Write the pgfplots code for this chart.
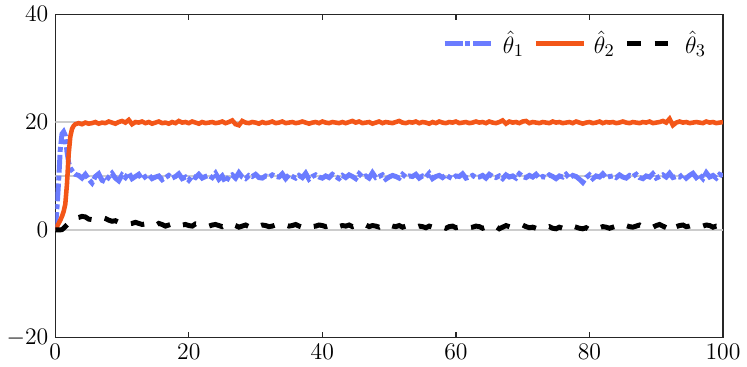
\documentclass[border=0pt]{standalone}
\usepackage{pgfplots}
\usepackage{pgfplotstable}
\pgfplotsset{compat=1.18}

\definecolor{cblue}{RGB}{107,124,255}
\definecolor{corange}{RGB}{243,86,24}
\definecolor{cgrid}{RGB}{204,204,204}
\definecolor{caxis}{RGB}{38,38,38}

% columns: t, theta1, theta2, theta3
\pgfplotstableread{
x t1 t2 t3
0 0 0 0
0.25 4 0.6 0
0.5 9 1.2 0
0.75 15 1.8 0
1 17.8 2.5 0.05
1.25 18.2 3.4 0.3
1.5 17.5 4.8 0.6
1.75 14.5 8.5 0.9
2 12.5 14 1.2
2.25 11.5 17.3 1.5
2.5 11 18.7 1.8
2.75 10.6 19.3 2.0
3 10.3 19.6 2.2
3.5 10.1 19.8 2.3
4 9.6 19.6 2.5
4.5 10.3 19.9 2.4
5 9.4 19.7 2.0
5.5 8.7 19.8 1.9
6 9.9 20.0 2.2
6.5 10.4 19.7 2.4
7 9.2 19.9 2.3
7.5 8.9 19.8 2.1
8 9.8 20.1 1.8
8.5 10.5 19.9 1.6
9 9.6 19.7 1.7
9.5 9.1 20.0 1.4
10 10.2 20.2 1.5
10.5 9.7 19.9 1.3
11 10.6 20.4 1.1
11.5 9.5 19.6 1.2
12 9.9 20.0 1.4
12.5 10.3 19.9 1.2
13 9.4 20.1 1.0
13.5 9.9 19.8 1.1
14 10.2 20.0 0.9
14.5 9.5 19.7 1.0
15 9.8 19.9 0.8
15.5 10.0 20.1 1.2
16 9.3 19.8 1.0
16.5 9.7 19.9 0.7
17 10.1 19.7 0.9
17.5 9.6 20.0 1.1
18 9.9 19.8 0.8
18.5 10.4 20.2 0.6
19 9.5 19.9 0.9
19.5 9.8 20.0 1.0
20 9.2 19.8 0.8
20.5 10.0 20.1 0.7
21 9.7 19.9 1.1
21.5 10.3 19.7 1.0
22 9.6 20.0 0.8
22.5 9.9 19.8 0.9
23 10.1 19.9 0.7
23.5 9.7 20.0 0.9
24 10.5 19.8 1.0
24.5 9.4 19.9 0.8
25 10.0 20.1 0.6
25.5 8.8 19.8 0.9
26 9.9 20.0 0.7
26.5 10.2 20.3 1.0
27 9.6 19.6 0.8
27.5 10.6 19.4 0.5
28 9.8 20.2 0.7
28.5 9.5 19.9 0.9
29 10.1 19.8 0.6
29.5 9.9 20.0 0.8
30 10.3 19.9 1.0
30.5 9.7 19.7 0.7
31 9.6 20.0 0.9
31.5 10.0 19.8 0.8
32 9.8 19.9 0.6
32.5 10.2 20.1 0.7
33 9.9 19.8 0.9
33.5 9.8 19.9 0.8
34 10.4 20.1 0.6
34.5 9.5 19.8 0.9
35 10.2 19.9 0.7
35.5 9.9 20.0 0.8
36 9.6 19.8 1.0
36.5 10.1 19.9 0.7
37 9.7 20.1 0.5
37.5 10.5 19.9 0.8
38 9.4 19.7 0.9
38.5 9.9 19.9 0.6
39 10.2 20.0 0.7
39.5 9.8 19.8 0.9
40 9.6 20.1 0.8
40.5 10.0 19.9 0.6
41 9.7 19.8 0.8
41.5 10.3 20.0 1.0
42 9.9 19.9 0.7
42.5 9.5 19.8 0.6
43 10.1 20.0 0.8
43.5 9.7 19.8 0.7
44 10.2 20.0 0.9
44.5 9.9 20.2 0.6
45 9.5 19.9 0.8
45.5 10.4 20.1 0.5
46 9.8 19.8 0.7
46.5 10.0 19.9 0.9
47 9.6 20.0 0.6
47.5 10.6 19.7 0.8
48 9.7 19.9 0.7
48.5 9.9 20.1 0.5
49 10.2 19.8 0.8
49.5 9.4 20.0 0.6
50 9.8 19.9 0.9
50.5 10.1 19.8 0.7
51 9.9 20.0 0.6
51.5 9.6 20.2 0.8
52 10.3 19.9 0.5
52.5 9.8 19.8 0.7
53 10.0 20.0 0.6
53.5 9.9 19.9 0.8
54 10.3 20.1 0.5
54.5 9.6 19.8 0.7
55 10.0 20.0 0.6
55.5 9.8 19.9 0.4
56 10.5 19.7 0.7
56.5 9.5 20.0 0.5
57 9.9 19.8 0.6
57.5 10.1 20.1 0.8
58 9.7 19.9 0.5
58.5 10.2 19.8 0.3
59 9.8 20.0 0.6
59.5 9.5 19.9 0.7
60 10.0 20.1 0.4
60.5 9.9 19.8 0.5
61 10.4 19.9 0.7
61.5 9.6 20.0 0.6
62 9.8 19.8 0.4
62.5 10.1 19.9 0.5
63 9.7 20.1 0.7
63.5 9.8 19.9 0.6
64 10.1 20.0 0.3
64.5 9.6 19.8 0.5
65 10.3 20.1 0.7
65.5 9.9 19.9 0.4
66 9.7 19.8 0.6
66.5 10.0 20.0 0.2
67 9.5 20.3 0.5
67.5 10.2 19.7 0.8
68 9.8 20.1 0.6
68.5 10.0 19.9 0.4
69 9.6 20.0 0.5
69.5 10.4 19.8 0.7
70 9.9 20.1 0.9
70.5 9.7 20.2 0.6
71 10.1 19.8 0.4
71.5 9.8 20.0 0.5
72 10.3 19.9 0.3
72.5 9.6 19.8 0.6
73 9.9 20.0 0.5
73.5 9.7 19.9 0.4
74 10.2 19.8 0.6
74.5 9.9 20.1 0.3
75 9.5 19.9 0.2
75.5 10.0 20.0 0.5
76 9.8 19.8 0.3
76.5 10.3 19.9 0.6
77 9.6 20.0 0.4
77.5 10.1 19.8 0.7
78 9.9 20.1 0.5
78.5 9.4 19.9 0.3
79 8.8 19.7 0.2
79.5 9.7 19.9 0.4
80 10.2 20.0 0.0
80.5 9.5 19.8 0.3
81 10.0 19.9 0.5
81.5 9.8 20.1 0.4
82 10.4 19.8 0.6
82.5 9.7 20.0 0.5
83 9.9 19.9 0.3
83.5 10.0 20.0 0.5
84 9.7 19.8 0.7
84.5 10.2 19.9 0.6
85 9.8 20.1 0.4
85.5 9.6 19.9 0.8
86 10.1 19.8 0.6
86.5 9.9 20.0 0.5
87 10.3 19.9 0.7
87.5 9.7 19.8 0.9
88 9.5 20.0 0.6
88.5 10.0 19.9 0.8
89 9.8 20.1 0.7
89.5 10.4 19.8 0.5
90 9.6 19.9 0.8
90.5 9.9 20.0 1.0
91 10.2 20.2 0.7
91.5 9.8 19.9 0.4
92 10.5 20.6 0.9
92.5 9.7 19.4 0.2
93 9.9 19.9 0.6
93.5 9.8 20.1 0.8
94 10.3 19.9 0.9
94.5 9.6 20.0 0.6
95 10.1 19.8 0.7
95.5 10.5 19.9 0.9
96 9.7 20.0 0.8
96.5 10.2 19.9 0.6
97 9.5 19.8 0.7
97.5 10.6 20.1 0.9
98 9.8 19.9 0.8
98.5 10.1 20.0 0.5
99 9.6 19.8 0.7
99.5 10.3 19.9 0.6
100 10.0 20.0 0.5
}\datatable

\begin{document}
\begin{tikzpicture}
\begin{axis}[
  scale only axis,
  width=337.5pt, height=163.5pt,
  xmin=0, xmax=100, ymin=-20, ymax=40,
  xtick={0,20,40,60,80,100},
  ytick={-20,0,20,40},
  tick align=inside,
  major tick length=3pt,
  axis line style={caxis, line width=0.7pt},
  every tick/.style={caxis, line width=0.6pt},
  tick label style={font=\fontsize{13}{15}\selectfont},
  legend style={draw=none, fill=none, font=\fontsize{13}{15}\selectfont,
    at={(0.99,0.975)}, anchor=north east,
    /tikz/every even column/.append style={column sep=2pt}},
  legend columns=3,
  legend cell align=left,
  legend image code/.code={\draw[#1] (0cm,0cm) -- (0.85cm,0cm);
    \path (-0.03cm,0cm) (0.92cm,0cm);},
]
\addplot[cgrid, line width=0.8pt, forget plot] coordinates {(0,0) (100,0)};
\addplot[cgrid, line width=0.8pt, forget plot] coordinates {(0,10) (100,10)};
\addplot[cgrid, line width=0.8pt, forget plot] coordinates {(0,20) (100,20)};
\addplot[cblue, line width=2.5pt, dash pattern=on 9pt off 1.5pt on 2.5pt off 1.5pt] table[x=x, y=t1] {\datatable};
\addlegendentry{$\hat{\theta}_1$}
\addplot[corange, line width=2.3pt] table[x=x, y=t2] {\datatable};
\addlegendentry{$\hat{\theta}_2$}
\addplot[black, line width=2.5pt, dash pattern=on 7pt off 7pt] table[x=x, y=t3] {\datatable};
\addlegendentry{$\hat{\theta}_3$}
\end{axis}
\end{tikzpicture}
\end{document}
